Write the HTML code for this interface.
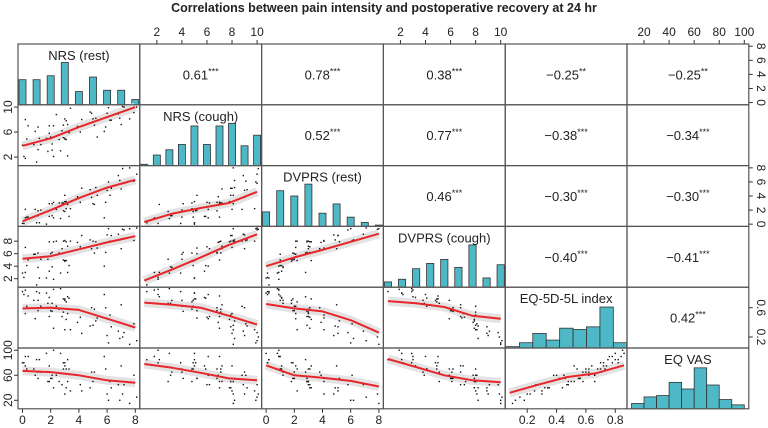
<!DOCTYPE html>
<html><head><meta charset="utf-8"><style>
html,body{margin:0;padding:0;background:#fff}
svg{display:block;font-family:"Liberation Sans",Arial,sans-serif}
</style></head><body>
<svg id="chart" width="768" height="428" viewBox="0 0 768 428" xmlns="http://www.w3.org/2000/svg">
<text x="384" y="12" text-anchor="middle" font-size="12.5" font-weight="bold" fill="#222">Correlations between pain intensity and postoperative recovery at 24 hr</text>
</svg>
<script>
const varNames = ["NRS (rest)","NRS (cough)","DVPRS (rest)","DVPRS (cough)","EQ-5D-5L index","EQ VAS"];
const varDomains = [[-0.32,8.32],[0.64,10.36],[-0.32,8.32],[0.64,10.36],[0.05,0.88],[6.4,103.6]];
const varRanges = [[0,8],[1,10],[0,8],[1,10],[0.08,0.86],[10,100]];
const nrsRest = [0.1,0.3,0.2,1.1,0.9,1.2,1.8,2.1,2.2,1.9,2.8,3.1,3.0,2.9,3.2,2.7,3.9,4.2,5.1,4.8,5.2,5.9,6.1,6.2,6.8,7.1,7.0,7.9,8.1,0.4,1.0,2.0,3.3,3.1,2.2,5.0,6.0,1.3,4.1,3.0,2.1,0.2,1.7,2.6,3.4,5.3,6.9,7.2,2.9,3.2,0.8,1.9,4.9,5.8,6.3,2.4,3.0,1.1,0.0,7.6];
const nrsCough = [2.1,4.9,1.8,3.2,6.1,5.0,2.9,4.1,7.0,5.8,6.2,4.8,8.1,5.1,7.2,3.0,6.9,8.0,7.1,9.2,8.2,6.8,9.9,7.9,8.9,10.1,7.2,9.1,10.0,7.0,1.2,5.2,5.9,7.8,2.1,8.1,9.0,4.0,6.0,4.9,3.1,8.0,5.0,4.8,9.8,5.2,8.2,10.0,7.1,2.2,4.0,7.0,9.0,6.1,7.9,8.8,5.0,6.8,3.9,8.1];
const dvprsRest = [0.1,1.0,0.9,1.2,2.1,0.2,1.8,2.9,3.1,1.1,3.0,2.2,4.1,1.9,3.0,0.8,3.9,5.1,2.8,4.9,5.2,3.1,6.0,4.1,6.9,7.9,5.0,6.1,7.1,1.0,0.2,2.0,1.1,3.2,0.9,2.9,4.8,2.0,3.1,1.8,1.2,2.1,0.0,3.0,2.2,4.1,6.2,5.8,3.0,2.8,1.0,2.9,3.8,0.9,5.1,2.1,3.2,1.9,0.1,8.0];
const dvprsCough = [2.2,4.1,3.0,3.8,5.9,2.1,5.1,6.2,7.9,3.2,6.8,4.9,8.1,5.0,7.2,2.9,7.8,8.9,6.1,8.2,7.9,6.2,10.0,8.0,9.1,9.9,6.8,8.1,10.1,5.0,1.0,6.0,4.1,7.9,1.9,8.0,9.0,5.1,7.1,4.8,3.9,7.0,2.1,6.1,8.0,6.9,8.2,9.8,8.0,3.0,5.9,7.9,6.8,4.0,8.9,8.0,4.9,6.1,2.9,10.0];
const eq5d = [0.78,0.62,0.84,0.70,0.45,0.80,0.66,0.55,0.32,0.74,0.48,0.68,0.30,0.72,0.52,0.86,0.40,0.25,0.58,0.35,0.42,0.60,0.12,0.50,0.28,0.20,0.64,0.38,0.15,0.76,0.82,0.56,0.73,0.44,0.85,0.36,0.22,0.62,0.47,0.70,0.66,0.52,0.80,0.58,0.30,0.46,0.18,0.26,0.54,0.75,0.70,0.48,0.60,0.78,0.34,0.62,0.72,0.56,0.82,0.10];
const eqVas = [80,70,90,65,60,85,50,55,40,75,45,70,30,80,50,95,60,35,65,40,55,70,20,50,45,30,75,60,25,90,85,55,70,40,100,50,30,65,45,80,60,75,95,50,35,55,20,45,70,85,70,50,65,90,40,60,75,55,80,15];
const allVars = [nrsRest,nrsCough,dvprsRest,dvprsCough,eq5d,eqVas];

// histograms (counts)
const histNrsRest = [19,19,22,32,10,21,11,11,4];
const histNrsCough = [1,8,12,16,30,16,30,32,15,23];
const histDvprsRest = [11,27,23,32,10,17,7,3,1];
const histDvprsCough = [4,6,14,18,21,15,32,7,17];
const histEq5d = [1,4,11,6,15,14,16,31,4];
const histEqVas = [4,9,10,20,15,31,18,7,3];
const histCounts = [histNrsRest,histNrsCough,histDvprsRest,histDvprsCough,histEq5d,histEqVas];
const histCentersNrsRest = [0,1,2,3,4,5,6,7,8];
const histCentersNrsCough = [1,2,3,4,5,6,7,8,9,10];
const histCentersDvprsRest = [0,1,2,3,4,5,6,7,8];
const histCentersDvprsCough = [1,2.125,3.25,4.375,5.5,6.625,7.75,8.875,10];
const histEdgesEq5d = [0.055,0.1465,0.238,0.3295,0.421,0.5125,0.604,0.6955,0.787,0.8785];
const histEdgesEqVas = [10,20,30,40,50,60,70,80,90,100];

// loess fits at 5 evenly spaced knots across the x variable's range
const fitR2C1 = [3.8,5.0,6.8,8.4,10.0];
const fitR3C1 = [0.4,2.0,3.7,5.2,6.3];
const fitR3C2 = [0.3,1.5,2.3,3.0,4.6];
const fitR4C1 = [5.2,5.6,6.7,7.8,8.8];
const fitR4C2 = [1.7,3.5,5.4,7.4,9.1];
const fitR4C3 = [4.0,5.4,6.6,7.9,9.2];
const fitR5C1 = [0.59,0.60,0.57,0.45,0.33];
const fitR5C2 = [0.67,0.64,0.60,0.49,0.37];
const fitR5C3 = [0.65,0.59,0.55,0.43,0.26];
const fitR5C4 = [0.69,0.66,0.61,0.49,0.45];
const fitR6C1 = [67,65,60,52,48];
const fitR6C2 = [78,72,64,55,52];
const fitR6C3 = [76,60,56,51,42];
const fitR6C4 = [86,73,60,52,49];
const fitR6C5 = [32,45,57,63,76];
const fits = {"1_0":fitR2C1,"2_0":fitR3C1,"2_1":fitR3C2,"3_0":fitR4C1,"3_1":fitR4C2,"3_2":fitR4C3,"4_0":fitR5C1,"4_1":fitR5C2,"4_2":fitR5C3,"4_3":fitR5C4,"5_0":fitR6C1,"5_1":fitR6C2,"5_2":fitR6C3,"5_3":fitR6C4,"5_4":fitR6C5};

const corrR1 = ["","0.61","0.78","0.38","\u22120.25","\u22120.25"];
const corrR2 = ["","","0.52","0.77","\u22120.38","\u22120.34"];
const corrR3 = ["","","","0.46","\u22120.30","\u22120.30"];
const corrR4 = ["","","","","\u22120.40","\u22120.41"];
const corrR5 = ["","","","","","0.42"];
const corrStars = ["","***","***","***","**","**","","","***","***","***","***","","","","***","***","***","","","","","***","***","","","","","","***"];
const corrs = [corrR1,corrR2,corrR3,corrR4,corrR5];

const topTicks = {1:[2,4,6,8,10],3:[2,4,6,8,10],5:[20,40,60,80,100]};
const bottomTicks = {0:[0,2,4,6,8],2:[0,2,4,6,8],4:[0.2,0.4,0.6,0.8]};
const leftTicks = {1:[2,6,10],3:[2,4,6,8],5:[20,60,100]};
const rightTicks = {0:[0,2,4,6,8],2:[0,2,4,6,8],4:[0.2,0.6]};

const X0=18, Y0=44, PW=121.8, PH=60.8, N=6;
const svg=document.getElementById('chart');
const NS="http://www.w3.org/2000/svg";
function mk(tag,attrs,parent){const e=document.createElementNS(NS,tag);for(const k in attrs)e.setAttribute(k,attrs[k]);(parent||svg).appendChild(e);return e;}
function sx(v,col,val){const d=varDomains[v];return X0+col*PW+(val-d[0])/(d[1]-d[0])*PW;}
function sy(v,row,val){const d=varDomains[v];return Y0+(row+1)*PH-(val-d[0])/(d[1]-d[0])*PH;}
const histMax=46;
function hy(row,c){return Y0+(row+1)*PH-c/histMax*PH;}

for(let i=0;i<N;i++){for(let j=0;j<N;j++){
  const g=mk('g',{});
  
  
  const px=X0+j*PW, py=Y0+i*PH;
  if(i===j){
    const counts=histCounts[i];
    counts.forEach((c,k)=>{
      let x1,x2;
      if(i===4||i===5){const ed=i===4?histEdgesEq5d:histEdgesEqVas;x1=sx(i,j,ed[k]);x2=sx(i,j,ed[k+1]);}
      else{const cs=[histCentersNrsRest,histCentersNrsCough,histCentersDvprsRest,histCentersDvprsCough][i];const w=[0.5,0.56,0.5,0.58][i];x1=sx(i,j,cs[k]-w/2);x2=sx(i,j,cs[k]+w/2);}
      x1=Math.max(x1,px);x2=Math.min(x2,px+PW);
      const y=hy(i,c);
      const r=mk('rect',{x:x1,y:y,width:x2-x1,height:py+PH-y,fill:'#4fb8c7',stroke:'#333','stroke-width':0.8},g);
      
      
    });
    const t=mk('text',{x:px+PW/2,y:py+16,'text-anchor':'middle','font-size':13,fill:'#222'},g);
    
    
    t.textContent=varNames[i];
  } else if(i>j){
    const xs=allVars[j], ys=allVars[i];
    const f=fits[i+'_'+j], rg=varRanges[j];
    const pts=f.map((v,k)=>[sx(j,j,rg[0]+k*(rg[1]-rg[0])/4),sy(i,i,v)]);
    const dpts=pts.map(p=>(p[0]).toFixed(1)+','+p[1].toFixed(1)).join(' ');
    const band=mk('polyline',{points:dpts,fill:'none',stroke:'#e3e3e3','stroke-width':9,'stroke-linejoin':'round'},g);
    
    
    xs.forEach((xv,k)=>{
      const c=mk('rect',{x:sx(j,j,xv)-0.7,y:sy(i,i,ys[k])-0.7,width:1.4,height:1.4,fill:'#111'},g);
      
      
    });
    const ln=mk('polyline',{points:dpts,fill:'none',stroke:'#e8262a','stroke-width':2,'stroke-linejoin':'round'},g);
    
    
  } else {
    const t=mk('text',{x:px+PW/2,y:py+PH/2+5,'text-anchor':'middle','font-size':13,fill:'#222'},g);
    
    
    t.textContent=corrs[i][j];
    const s=mk('tspan',{'font-size':9,dy:-5},t);
    s.textContent=corrStars[i*6+j];
  }
  const b=mk('rect',{x:px,y:py,width:PW,height:PH,fill:'none',stroke:'#555','stroke-width':1.2},g);
  
  
}}

function axisGroup(name){const g=mk('g',{});return g;}
for(const c in topTicks){const col=+c;const g=axisGroup('top-axis-c'+(col+1));
  topTicks[c].forEach(v=>{const x=sx(col,col,v);mk('line',{x1:x,x2:x,y1:Y0,y2:Y0-4,stroke:'#333'},g);
    const t=mk('text',{x:x,y:Y0-8,'text-anchor':'middle','font-size':12,fill:'#222'},g);t.textContent=v;});}
for(const c in bottomTicks){const col=+c;const g=axisGroup('bottom-axis-c'+(col+1));const yb=Y0+N*PH;
  bottomTicks[c].forEach(v=>{const x=sx(col,col,v);mk('line',{x1:x,x2:x,y1:yb,y2:yb+4,stroke:'#333'},g);
    const t=mk('text',{x:x,y:yb+15,'text-anchor':'middle','font-size':12,fill:'#222'},g);t.textContent=v;});}
for(const r in leftTicks){const row=+r;const g=axisGroup('left-axis-r'+(row+1));
  leftTicks[r].forEach(v=>{const y=sy(row,row,v);mk('line',{x1:X0,x2:X0-4,y1:y,y2:y,stroke:'#333'},g);
    const t=mk('text',{x:0,y:0,'text-anchor':'middle','font-size':12,fill:'#222',transform:'translate(12,'+y+') rotate(-90)'},g);t.textContent=v;});}
for(const r in rightTicks){const row=+r;const g=axisGroup('right-axis-r'+(row+1));const xr=X0+N*PW;
  rightTicks[r].forEach(v=>{const y=sy(row,row,v);mk('line',{x1:xr,x2:xr+4,y1:y,y2:y,stroke:'#333'},g);
    const t=mk('text',{x:0,y:0,'text-anchor':'middle','font-size':12,fill:'#222',transform:'translate('+(xr+8)+','+y+') rotate(90)'},g);t.textContent=v;});}
</script>
</body></html>
